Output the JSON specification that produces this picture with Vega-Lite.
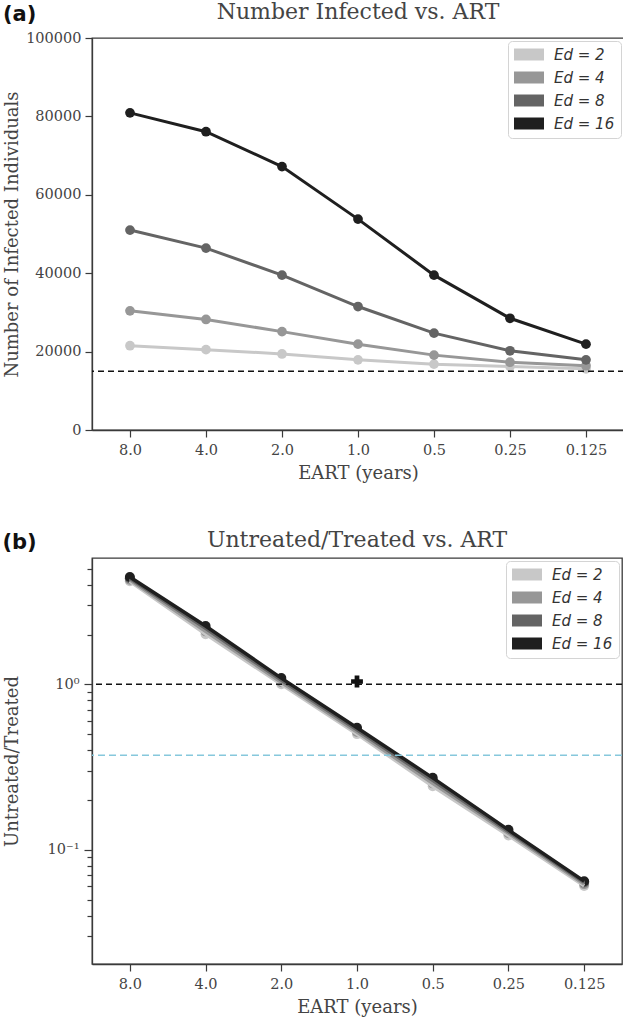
{
  "$schema": "https://vega.github.io/schema/vega-lite/v6.json",
  "padding": {"left": 2, "right": 0, "top": 0, "bottom": 0},
  "background": "white",
  "spacing": 44,
  "resolve": {"scale": {"color": "independent", "stroke": "independent"}, "legend": {"color": "independent", "stroke": "independent"}},
  "config": {
    "view": {"stroke": "#3a3a3a", "strokeWidth": 1.3},
    "font": "DejaVu Serif",
    "axis": {
      "labelFont": "DejaVu Serif", "labelFontSize": 14.5, "labelColor": "#444",
      "titleFont": "DejaVu Serif", "titleFontSize": 18, "titleFontWeight": "normal", "titleColor": "#444",
      "domainColor": "#3a3a3a", "tickColor": "#3a3a3a", "tickSize": 7, "domainWidth": 1.3, "tickWidth": 1.2,
      "grid": false, "labelPadding": 4
    },
    "axisY": {"tickSize": 7, "titlePadding": 4},
    "axisX": {"titlePadding": 8, "labelPadding": 6},
    "title": {"font": "DejaVu Serif", "fontSize": 22, "fontWeight": "normal", "color": "#444"},
    "legend": {
      "orient": "top-right", "offset": 3, "padding": 6, "fillColor": "white", "strokeColor": "#d4d4d4",
      "cornerRadius": 4, "labelFont": "DejaVu Sans", "labelFontSize": 15, "labelColor": "#333",
      "labelFontStyle": "italic", "symbolType": "M-1,-0.8H3V0.8H-1Z", "symbolSize": 225,
      "symbolStrokeWidth": 0, "symbolOpacity": 1, "rowPadding": 7, "labelOffset": 25
    }
  },
  "datasets": {
    "a": [
      {"t": "8.0", "ed": "Ed = 2", "n": 21500}, {"t": "4.0", "ed": "Ed = 2", "n": 20500}, {"t": "2.0", "ed": "Ed = 2", "n": 19400}, {"t": "1.0", "ed": "Ed = 2", "n": 17900}, {"t": "0.5", "ed": "Ed = 2", "n": 16800}, {"t": "0.25", "ed": "Ed = 2", "n": 16200}, {"t": "0.125", "ed": "Ed = 2", "n": 15600},
      {"t": "8.0", "ed": "Ed = 4", "n": 30400}, {"t": "4.0", "ed": "Ed = 4", "n": 28200}, {"t": "2.0", "ed": "Ed = 4", "n": 25100}, {"t": "1.0", "ed": "Ed = 4", "n": 21900}, {"t": "0.5", "ed": "Ed = 4", "n": 19100}, {"t": "0.25", "ed": "Ed = 4", "n": 17300}, {"t": "0.125", "ed": "Ed = 4", "n": 16400},
      {"t": "8.0", "ed": "Ed = 8", "n": 51000}, {"t": "4.0", "ed": "Ed = 8", "n": 46400}, {"t": "2.0", "ed": "Ed = 8", "n": 39500}, {"t": "1.0", "ed": "Ed = 8", "n": 31500}, {"t": "0.5", "ed": "Ed = 8", "n": 24700}, {"t": "0.25", "ed": "Ed = 8", "n": 20200}, {"t": "0.125", "ed": "Ed = 8", "n": 17900},
      {"t": "8.0", "ed": "Ed = 16", "n": 80900}, {"t": "4.0", "ed": "Ed = 16", "n": 76100}, {"t": "2.0", "ed": "Ed = 16", "n": 67200}, {"t": "1.0", "ed": "Ed = 16", "n": 53800}, {"t": "0.5", "ed": "Ed = 16", "n": 39500}, {"t": "0.25", "ed": "Ed = 16", "n": 28500}, {"t": "0.125", "ed": "Ed = 16", "n": 21900}
    ],
    "b": [
      {"t": "8.0", "ed": "Ed = 2", "r": 4.2}, {"t": "4.0", "ed": "Ed = 2", "r": 2.01}, {"t": "2.0", "ed": "Ed = 2", "r": 1.0}, {"t": "1.0", "ed": "Ed = 2", "r": 0.5}, {"t": "0.5", "ed": "Ed = 2", "r": 0.242}, {"t": "0.25", "ed": "Ed = 2", "r": 0.122}, {"t": "0.125", "ed": "Ed = 2", "r": 0.0605},
      {"t": "8.0", "ed": "Ed = 4", "r": 4.28}, {"t": "4.0", "ed": "Ed = 4", "r": 2.09}, {"t": "2.0", "ed": "Ed = 4", "r": 1.03}, {"t": "1.0", "ed": "Ed = 4", "r": 0.515}, {"t": "0.5", "ed": "Ed = 4", "r": 0.252}, {"t": "0.25", "ed": "Ed = 4", "r": 0.126}, {"t": "0.125", "ed": "Ed = 4", "r": 0.062},
      {"t": "8.0", "ed": "Ed = 8", "r": 4.38}, {"t": "4.0", "ed": "Ed = 8", "r": 2.18}, {"t": "2.0", "ed": "Ed = 8", "r": 1.06}, {"t": "1.0", "ed": "Ed = 8", "r": 0.532}, {"t": "0.5", "ed": "Ed = 8", "r": 0.263}, {"t": "0.25", "ed": "Ed = 8", "r": 0.129}, {"t": "0.125", "ed": "Ed = 8", "r": 0.0635},
      {"t": "8.0", "ed": "Ed = 16", "r": 4.45}, {"t": "4.0", "ed": "Ed = 16", "r": 2.25}, {"t": "2.0", "ed": "Ed = 16", "r": 1.09}, {"t": "1.0", "ed": "Ed = 16", "r": 0.547}, {"t": "0.5", "ed": "Ed = 16", "r": 0.272}, {"t": "0.25", "ed": "Ed = 16", "r": 0.132}, {"t": "0.125", "ed": "Ed = 16", "r": 0.0646}
    ],
    "ha": [{"y": 15000}],
    "hb": [{"y": 1}],
    "hc": [{"y": 0.373}],
    "plus": [{"t": "1.0", "y": 1.04}]
  },
  "vconcat": [
    {
      "title": {"text": "(a)", "anchor": "start", "font": "DejaVu Sans", "fontWeight": "bold", "fontSize": 21, "color": "#111", "dy": 29},
      "resolve": {"legend": {"color": "independent"}},
      "vconcat": [
        {
          "width": 532, "height": 392,
          "title": {"text": "Number Infected vs. ART", "offset": 6},
          "layer": [
            {
              "data": {"name": "a"},
              "mark": {"type": "line", "strokeWidth": 3},
              "encoding": {
                "x": {"field": "t", "type": "ordinal", "sort": ["8.0", "4.0", "2.0", "1.0", "0.5", "0.25", "0.125"], "scale": {"type": "point", "padding": 0.5}, "axis": {"labelAngle": 0, "title": "EART (years)"}},
                "y": {"field": "n", "type": "quantitative", "scale": {"domain": [0, 100000], "nice": false}, "axis": {"values": [0, 20000, 40000, 60000, 80000, 100000], "format": "d", "title": "Number of Infected Individuals"}},
                "stroke": {"field": "ed", "type": "nominal", "scale": {"domain": ["Ed = 16", "Ed = 8", "Ed = 4", "Ed = 2"], "range": ["#1f1f1f", "#646464", "#979797", "#c8c8c8"]}, "legend": null}
              }
            },
            {
              "data": {"name": "a"},
              "mark": {"type": "point", "filled": true, "size": 95, "opacity": 1},
              "encoding": {
                "x": {"field": "t", "type": "ordinal", "sort": ["8.0", "4.0", "2.0", "1.0", "0.5", "0.25", "0.125"]},
                "y": {"field": "n", "type": "quantitative"},
                "color": {"field": "ed", "type": "nominal", "scale": {"domain": ["Ed = 2", "Ed = 4", "Ed = 8", "Ed = 16"], "range": ["#c8c8c8", "#979797", "#646464", "#1f1f1f"]}, "legend": {"title": null}}
              }
            },
            {
              "data": {"name": "ha"},
              "mark": {"type": "rule", "strokeDash": [6, 4], "color": "#111", "strokeWidth": 1.6},
              "encoding": {"y": {"field": "y", "type": "quantitative"}}
            }
          ]
        }
      ]
    },
    {
      "title": {"text": "(b)", "anchor": "start", "font": "DejaVu Sans", "fontWeight": "bold", "fontSize": 21, "color": "#111", "dy": 29},
      "resolve": {"legend": {"color": "independent"}},
      "vconcat": [
        {
          "width": 530, "height": 406,
          "title": {"text": "Untreated/Treated vs. ART", "offset": 6},
          "layer": [
            {
              "data": {"name": "b"},
              "mark": {"type": "point", "filled": true, "size": 100, "opacity": 1},
              "encoding": {
                "x": {"field": "t", "type": "ordinal", "sort": ["8.0", "4.0", "2.0", "1.0", "0.5", "0.25", "0.125"], "scale": {"type": "point", "padding": 0.5}, "axis": {"labelAngle": 0, "title": "EART (years)"}},
                "y": {"field": "r", "type": "quantitative", "scale": {"type": "log", "domain": [0.0204, 5.8], "nice": false}, "axis": {"title": "Untreated/Treated", "titlePadding": 26, "labelPadding": 5, "values": [0.03, 0.04, 0.05, 0.06, 0.07, 0.08, 0.09, 0.1, 0.2, 0.3, 0.4, 0.5, 0.6, 0.7, 0.8, 0.9, 1, 2, 3, 4, 5], "labelExpr": "datum.value == 1 ? '10⁰' : (datum.value == 0.1 ? '10⁻¹' : '')", "tickSize": {"condition": {"test": "datum.value == 1 || datum.value == 0.1", "value": 8}, "value": 5}}},
                "color": {"field": "ed", "type": "nominal", "scale": {"domain": ["Ed = 2", "Ed = 4", "Ed = 8", "Ed = 16"], "range": ["#c8c8c8", "#979797", "#646464", "#1f1f1f"]}, "legend": {"title": null}}
              }
            },
            {
              "data": {"name": "b"},
              "mark": {"type": "line", "strokeWidth": 3.5},
              "encoding": {
                "x": {"field": "t", "type": "ordinal", "sort": ["8.0", "4.0", "2.0", "1.0", "0.5", "0.25", "0.125"]},
                "y": {"field": "r", "type": "quantitative"},
                "stroke": {"field": "ed", "type": "nominal", "scale": {"domain": ["Ed = 16", "Ed = 8", "Ed = 4", "Ed = 2"], "range": ["#1f1f1f", "#646464", "#979797", "#c8c8c8"]}, "legend": null}
              }
            },
            {
              "data": {"name": "hb"},
              "mark": {"type": "rule", "strokeDash": [6, 4], "color": "#111", "strokeWidth": 1.6},
              "encoding": {"y": {"field": "y", "type": "quantitative"}}
            },
            {
              "data": {"name": "hc"},
              "mark": {"type": "rule", "strokeDash": [7, 4], "color": "#86c8dc", "strokeWidth": 1.6},
              "encoding": {"y": {"field": "y", "type": "quantitative"}}
            },
            {
              "data": {"name": "plus"},
              "mark": {"type": "point", "shape": "cross", "filled": true, "size": 140, "color": "#111", "opacity": 1},
              "encoding": {
                "x": {"field": "t", "type": "ordinal", "sort": ["8.0", "4.0", "2.0", "1.0", "0.5", "0.25", "0.125"]},
                "y": {"field": "y", "type": "quantitative"}
              }
            }
          ]
        }
      ]
    }
  ]
}
